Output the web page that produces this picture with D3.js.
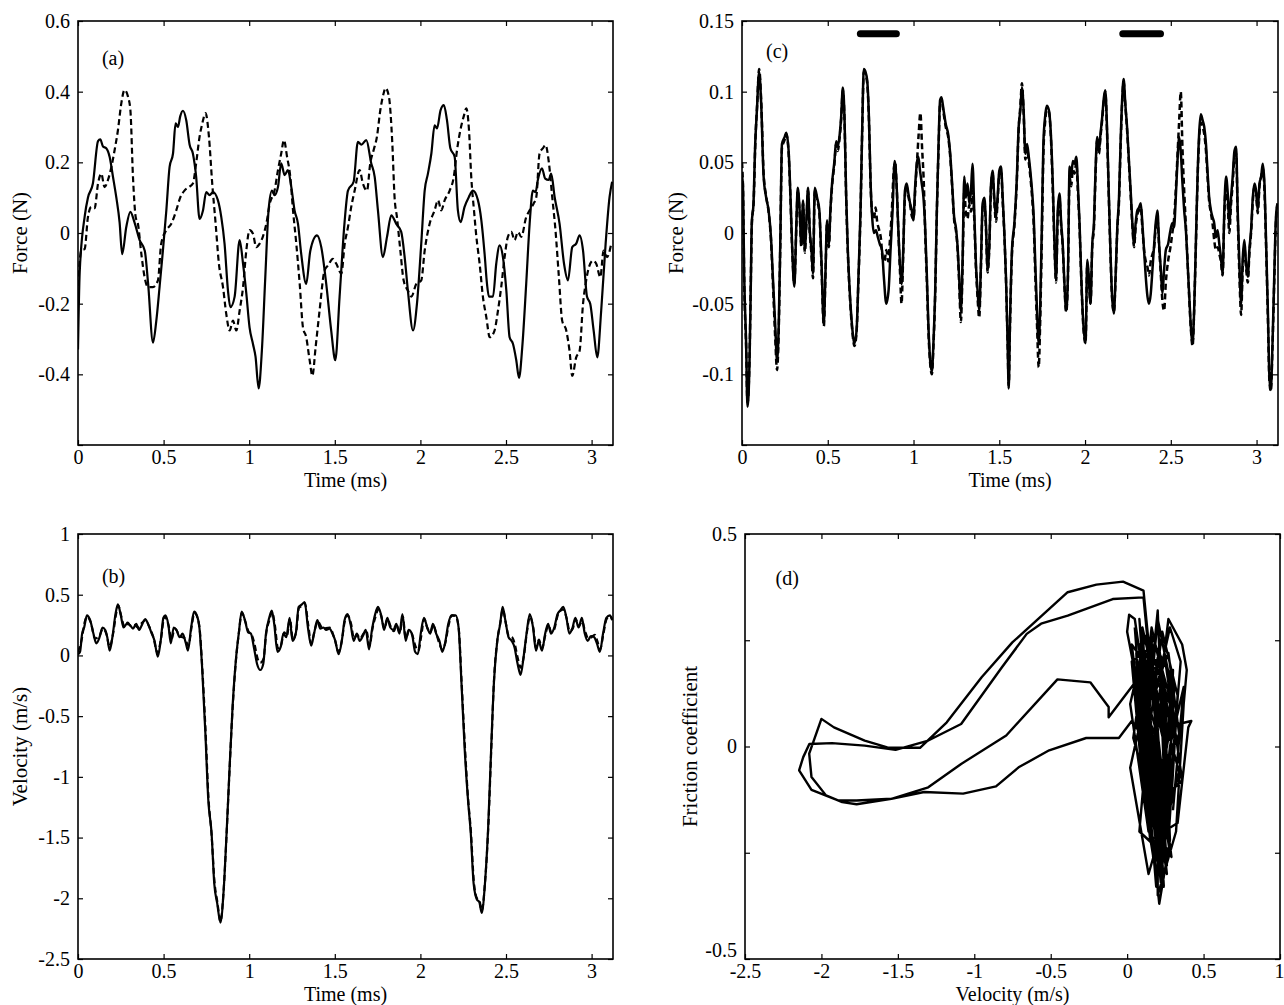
<!DOCTYPE html>
<html>
<head>
<meta charset="utf-8">
<script src="https://cdn.jsdelivr.net/npm/d3@7"></script>
<style>
  html, body { margin: 0; padding: 0; background: #fff; }
  svg { display: block; }
  .tick text { font-family: "Liberation Serif", "Times New Roman", serif; font-size: 20px; fill: #000; }
  .lab { font-family: "Liberation Serif", "Times New Roman", serif; font-size: 20px; fill: #000; }
  .ylab { font-size: 21px; }
  .letter { font-family: "Liberation Serif", "Times New Roman", serif; font-size: 20px; fill: #000; }
</style>
</head>
<body>
<svg id="fig" width="1284" height="1005"></svg>
<script>
// ---- (a) friction force, measured (solid) and simulated (dashed): [time ms, force N]
const forceA_solid = [
  [0,-0.33],[0.01,-0.11],[0.04,0.05],[0.058,0.10],[0.087,0.14],[0.117,0.26],[0.13,0.265],[0.146,0.245],
  [0.165,0.24],[0.185,0.215],[0.204,0.16],[0.224,0.10],[0.243,0.03],[0.258,-0.06],[0.282,0.017],[0.306,0.06],
  [0.33,0.03],[0.36,-0.02],[0.39,-0.05],[0.409,-0.14],[0.438,-0.31],[0.457,-0.25],[0.477,-0.15],[0.496,-0.05],
  [0.516,0.064],[0.535,0.187],[0.555,0.225],[0.57,0.31],[0.584,0.30],[0.597,0.33],[0.613,0.346],[0.632,0.32],
  [0.652,0.25],[0.671,0.225],[0.69,0.16],[0.71,0.04],[0.73,0.064],[0.749,0.116],[0.769,0.107],[0.788,0.116],
  [0.817,0.093],[0.837,0.045],[0.856,-0.03],[0.876,-0.163],[0.89,-0.21],[0.915,-0.18],[0.944,-0.02],[0.964,-0.087],
  [0.983,-0.17],[1.002,-0.267],[1.022,-0.314],[1.037,-0.35],[1.055,-0.44],[1.074,-0.333],[1.094,-0.125],[1.113,0.064],
  [1.133,0.12],[1.148,0.107],[1.168,0.13],[1.187,0.197],[1.207,0.164],[1.226,0.178],[1.246,0.13],[1.265,0.064],
  [1.285,0.026],[1.304,-0.06],[1.333,-0.144],[1.357,-0.05],[1.396,-0.007],[1.421,-0.04],[1.45,-0.144],[1.479,-0.276],
  [1.503,-0.36],[1.528,-0.18],[1.557,0.03],[1.577,0.12],[1.61,0.145],[1.635,0.258],[1.655,0.25],[1.684,0.263],
  [1.713,0.197],[1.733,0.159],[1.752,0.064],[1.781,-0.068],[1.805,-0.011],[1.83,0.05],[1.859,0.026],[1.888,0.003],
  [1.908,-0.068],[1.927,-0.163],[1.957,-0.276],[1.98,-0.2],[2.005,-0.03],[2.025,0.12],[2.044,0.168],[2.064,0.225],
  [2.083,0.305],[2.097,0.296],[2.118,0.348],[2.137,0.362],[2.155,0.32],[2.175,0.24],[2.2,0.216],[2.219,0.064],
  [2.235,0.031],[2.258,0.074],[2.283,0.102],[2.307,0.12],[2.336,0.093],[2.356,0.036],[2.375,-0.059],[2.389,-0.144],
  [2.4,-0.18],[2.424,-0.18],[2.443,-0.087],[2.463,-0.035],[2.482,-0.068],[2.502,-0.163],[2.521,-0.295],[2.541,-0.314],
  [2.56,-0.36],[2.576,-0.41],[2.595,-0.323],[2.618,-0.144],[2.638,0.026],[2.657,0.12],[2.673,0.116],[2.686,0.15],
  [2.71,0.183],[2.729,0.154],[2.749,0.15],[2.764,0.168],[2.784,0.102],[2.813,0.026],[2.839,-0.087],[2.862,-0.134],
  [2.887,-0.04],[2.91,-0.03],[2.93,-0.007],[2.95,-0.05],[2.973,-0.18],[2.992,-0.2],[3.012,-0.276],[3.033,-0.352],
  [3.056,-0.22],[3.082,-0.03],[3.105,0.102],[3.12,0.145]
];
const forceA_dashed = [
  [0,-0.15],[0.019,-0.05],[0.039,-0.045],[0.058,0.045],[0.078,0.074],[0.097,0.07],[0.117,0.14],[0.136,0.168],
  [0.155,0.13],[0.175,0.15],[0.195,0.187],[0.214,0.235],[0.233,0.29],[0.253,0.367],[0.272,0.405],[0.292,0.386],
  [0.306,0.348],[0.321,0.16],[0.337,0.045],[0.35,0.026],[0.37,-0.059],[0.389,-0.125],[0.409,-0.153],[0.438,-0.153],
  [0.467,-0.134],[0.486,-0.03],[0.516,0.008],[0.545,0.026],[0.574,0.064],[0.597,0.10],[0.622,0.12],[0.648,0.13],
  [0.671,0.14],[0.69,0.197],[0.71,0.272],[0.726,0.31],[0.745,0.339],[0.765,0.272],[0.784,0.14],[0.804,0.026],
  [0.823,-0.087],[0.847,-0.153],[0.866,-0.229],[0.886,-0.276],[0.905,-0.248],[0.925,-0.276],[0.944,-0.22],[0.964,-0.153],
  [0.983,-0.05],[1.002,0.008],[1.022,-0.002],[1.041,-0.04],[1.061,-0.03],[1.08,-0.01],[1.1,0.026],[1.12,0.083],
  [1.148,0.12],[1.168,0.178],[1.187,0.225],[1.203,0.263],[1.221,0.216],[1.24,0.159],[1.256,0.064],[1.275,-0.03],
  [1.295,-0.144],[1.314,-0.267],[1.333,-0.295],[1.353,-0.36],[1.369,-0.404],[1.388,-0.323],[1.411,-0.22],[1.44,-0.106],
  [1.46,-0.092],[1.489,-0.073],[1.509,-0.087],[1.538,-0.115],[1.558,-0.03],[1.577,0.017],[1.596,0.074],[1.616,0.12],
  [1.645,0.178],[1.664,0.14],[1.688,0.12],[1.707,0.197],[1.727,0.235],[1.746,0.272],[1.766,0.348],[1.785,0.395],
  [1.797,0.41],[1.816,0.386],[1.836,0.253],[1.849,0.102],[1.863,0.045],[1.883,-0.05],[1.902,-0.134],[1.927,-0.163],
  [1.947,-0.18],[1.976,-0.144],[2.005,-0.134],[2.025,-0.05],[2.054,0.026],[2.083,0.064],[2.103,0.093],[2.122,0.064],
  [2.142,0.093],[2.171,0.12],[2.195,0.159],[2.214,0.235],[2.233,0.29],[2.253,0.33],[2.268,0.353],[2.284,0.29],
  [2.297,0.159],[2.313,0.064],[2.327,-0.011],[2.346,-0.087],[2.365,-0.18],[2.385,-0.238],[2.405,-0.295],[2.433,-0.276],
  [2.453,-0.22],[2.472,-0.153],[2.492,-0.068],[2.511,-0.011],[2.531,0.003],[2.55,-0.02],[2.57,0.003],[2.589,-0.011],
  [2.618,0.045],[2.638,0.064],[2.661,0.083],[2.677,0.102],[2.696,0.225],[2.716,0.24],[2.731,0.249],[2.751,0.197],
  [2.77,0.102],[2.789,0.008],[2.809,-0.125],[2.828,-0.248],[2.852,-0.276],[2.871,-0.333],[2.887,-0.404],[2.91,-0.352],
  [2.93,-0.333],[2.95,-0.2],[2.965,-0.144],[2.985,-0.096],[3.008,-0.078],[3.027,-0.087],[3.051,-0.125],[3.07,-0.05],
  [3.09,-0.068],[3.115,-0.03]
];

// ---- (b) sliding velocity: [time ms, velocity m/s]
const velB_solid = [
  [0,0.01],[0.012,0.03],[0.024,0.18],[0.036,0.23],[0.052,0.33],[0.071,0.29],[0.09,0.18],[0.107,0.10],
  [0.126,0.15],[0.143,0.23],[0.159,0.21],[0.171,0.15],[0.185,0.04],[0.202,0.16],[0.219,0.34],[0.233,0.42],
  [0.25,0.33],[0.266,0.23],[0.285,0.26],[0.304,0.25],[0.321,0.22],[0.34,0.26],[0.357,0.21],[0.376,0.26],
  [0.392,0.30],[0.409,0.26],[0.428,0.19],[0.447,0.12],[0.466,-0.01],[0.483,0.12],[0.499,0.31],[0.511,0.33],
  [0.528,0.25],[0.542,0.10],[0.559,0.23],[0.575,0.21],[0.594,0.15],[0.611,0.18],[0.63,0.10],[0.642,0.04],
  [0.661,0.23],[0.678,0.36],[0.694,0.33],[0.709,0.23],[0.725,-0.1],[0.744,-0.64],[0.761,-1.19],[0.78,-1.46],
  [0.796,-1.88],[0.813,-2.04],[0.832,-2.2],[0.851,-1.93],[0.868,-1.46],[0.884,-0.97],[0.903,-0.42],[0.922,-0.04],
  [0.939,0.18],[0.956,0.36],[0.975,0.29],[0.994,0.19],[1.01,0.18],[1.027,0.07],[1.046,-0.07],[1.065,-0.12],
  [1.082,-0.07],[1.098,0.18],[1.117,0.31],[1.132,0.37],[1.146,0.26],[1.165,0.03],[1.184,0.07],[1.2,0.18],
  [1.217,0.15],[1.236,0.31],[1.253,0.12],[1.272,0.18],[1.289,0.40],[1.308,0.42],[1.324,0.44],[1.343,0.23],
  [1.362,0.08],[1.379,0.18],[1.398,0.29],[1.415,0.22],[1.434,0.23],[1.45,0.21],[1.469,0.22],[1.486,0.18],
  [1.503,0.12],[1.522,0.01],[1.541,0.12],[1.557,0.29],[1.574,0.34],[1.593,0.25],[1.61,0.12],[1.629,0.18],
  [1.645,0.12],[1.664,0.16],[1.681,0.21],[1.7,0.05],[1.717,0.21],[1.736,0.34],[1.752,0.40],[1.771,0.33],
  [1.788,0.21],[1.807,0.31],[1.824,0.23],[1.843,0.21],[1.859,0.26],[1.878,0.18],[1.895,0.34],[1.914,0.12],
  [1.931,0.21],[1.95,0.18],[1.969,0.03],[1.985,0.01],[2.002,0.18],[2.021,0.31],[2.04,0.23],[2.057,0.18],
  [2.073,0.26],[2.092,0.18],[2.111,0.12],[2.128,0.03],[2.144,0.10],[2.163,0.26],[2.182,0.33],[2.206,0.33],
  [2.223,0.23],[2.24,-0.23],[2.259,-0.78],[2.278,-1.19],[2.294,-1.46],[2.311,-1.88],[2.33,-2.01],[2.344,-2.03],
  [2.358,-2.12],[2.377,-1.88],[2.396,-1.41],[2.413,-0.78],[2.43,-0.21],[2.449,0.12],[2.466,0.26],[2.48,0.40],
  [2.496,0.29],[2.515,0.15],[2.533,0.12],[2.549,0.07],[2.568,-0.07],[2.585,-0.16],[2.603,-0.01],[2.62,0.18],
  [2.639,0.34],[2.658,0.23],[2.675,0.04],[2.691,0.12],[2.71,0.04],[2.729,0.18],[2.746,0.26],[2.763,0.18],
  [2.782,0.23],[2.801,0.34],[2.817,0.37],[2.834,0.40],[2.853,0.31],[2.87,0.18],[2.889,0.23],[2.905,0.31],
  [2.924,0.23],[2.943,0.31],[2.96,0.18],[2.977,0.12],[2.996,0.16],[3.015,0.15],[3.031,0.10],[3.048,0.03],
  [3.067,0.18],[3.086,0.31],[3.107,0.33],[3.12,0.29]
];
const velB_dashed = [
  [0,0.03],[0.02,0.12],[0.04,0.28],[0.055,0.32],[0.075,0.27],[0.1,0.14],[0.125,0.16],[0.145,0.22],
  [0.165,0.18],[0.185,0.07],[0.205,0.18],[0.225,0.36],[0.235,0.41],[0.255,0.31],[0.27,0.24],[0.29,0.27],
  [0.31,0.24],[0.33,0.25],[0.35,0.23],[0.375,0.27],[0.395,0.29],[0.415,0.24],[0.44,0.15],[0.465,0.02],
  [0.485,0.14],[0.505,0.32],[0.53,0.24],[0.545,0.13],[0.565,0.22],[0.595,0.16],[0.625,0.14],[0.645,0.08],
  [0.665,0.25],[0.68,0.35],[0.7,0.30],[0.712,0.20],[0.725,-0.08],[0.745,-0.62],[0.762,-1.17],[0.78,-1.47],
  [0.797,-1.86],[0.814,-2.03],[0.832,-2.19],[0.85,-1.95],[0.868,-1.47],[0.884,-0.98],[0.903,-0.44],[0.922,-0.05],
  [0.94,0.19],[0.957,0.35],[0.977,0.28],[0.995,0.20],[1.015,0.17],[1.03,0.10],[1.05,-0.03],[1.065,-0.06],
  [1.083,-0.03],[1.1,0.19],[1.12,0.30],[1.133,0.36],[1.15,0.25],[1.168,0.06],[1.185,0.08],[1.205,0.19],
  [1.22,0.16],[1.238,0.30],[1.255,0.13],[1.275,0.20],[1.29,0.39],[1.31,0.41],[1.325,0.43],[1.345,0.25],
  [1.362,0.10],[1.38,0.19],[1.4,0.28],[1.43,0.22],[1.47,0.23],[1.5,0.13],[1.522,0.03],[1.542,0.13],
  [1.558,0.28],[1.575,0.33],[1.595,0.26],[1.612,0.14],[1.63,0.17],[1.648,0.14],[1.668,0.18],[1.685,0.20],
  [1.703,0.08],[1.72,0.22],[1.738,0.32],[1.755,0.38],[1.772,0.32],[1.79,0.22],[1.808,0.30],[1.826,0.24],
  [1.845,0.20],[1.86,0.25],[1.88,0.19],[1.897,0.32],[1.915,0.14],[1.933,0.20],[1.952,0.17],[1.97,0.08],
  [1.988,0.04],[2.005,0.16],[2.022,0.30],[2.042,0.22],[2.058,0.19],[2.075,0.25],[2.095,0.17],[2.11,0.10],
  [2.128,0.05],[2.145,0.10],[2.165,0.25],[2.185,0.33],[2.207,0.32],[2.224,0.22],[2.24,-0.2],[2.26,-0.75],
  [2.278,-1.17],[2.295,-1.45],[2.312,-1.86],[2.33,-2.0],[2.345,-2.02],[2.358,-2.1],[2.378,-1.86],[2.397,-1.4],
  [2.414,-0.77],[2.43,-0.2],[2.45,0.13],[2.467,0.27],[2.482,0.38],[2.497,0.28],[2.516,0.16],[2.535,0.15],
  [2.55,0.10],[2.57,-0.03],[2.586,-0.10],[2.605,0.0],[2.622,0.19],[2.64,0.32],[2.66,0.22],[2.676,0.06],
  [2.692,0.13],[2.71,0.06],[2.73,0.17],[2.748,0.25],[2.765,0.19],[2.783,0.22],[2.802,0.33],[2.82,0.37],
  [2.836,0.38],[2.855,0.30],[2.872,0.20],[2.89,0.22],[2.907,0.30],[2.925,0.24],[2.944,0.28],[2.962,0.20],
  [2.98,0.14],[3.0,0.15],[3.018,0.17],[3.033,0.12],[3.05,0.05],[3.068,0.17],[3.088,0.30],[3.107,0.32],
  [3.12,0.30]
];

// ---- (c) friction force at a second condition: [time ms, force N]
const forceC_solid = [
  [0,0.04],[0.005,0.035],[0.013,-0.031],[0.024,-0.078],[0.032,-0.123],[0.044,-0.09],[0.052,-0.031],[0.057,0.007],
  [0.067,0.021],[0.077,0.063],[0.087,0.087],[0.1,0.114],[0.112,0.091],[0.126,0.04],[0.141,0.025],[0.155,0.016],
  [0.169,-0.003],[0.18,-0.031],[0.194,-0.066],[0.204,-0.09],[0.214,-0.066],[0.223,-0.008],[0.233,0.063],[0.249,0.068],
  [0.258,0.071],[0.272,0.058],[0.282,0.028],[0.292,-0.008],[0.305,-0.038],[0.317,0.007],[0.325,0.032],[0.336,0.016],
  [0.346,-0.008],[0.356,0.023],[0.366,-0.012],[0.375,0.007],[0.385,0.032],[0.395,0.002],[0.405,-0.012],[0.414,-0.029],
  [0.424,0.032],[0.438,0.025],[0.451,0.016],[0.463,-0.019],[0.477,-0.064],[0.486,-0.031],[0.496,0.009],[0.506,-0.008],
  [0.516,0.018],[0.525,0.035],[0.539,0.051],[0.549,0.065],[0.558,0.061],[0.568,0.068],[0.578,0.082],[0.588,0.103],
  [0.598,0.08],[0.607,0.028],[0.617,-0.012],[0.629,-0.043],[0.642,-0.066],[0.656,-0.078],[0.668,-0.069],[0.679,-0.031],
  [0.691,0.016],[0.701,0.075],[0.71,0.116],[0.72,0.114],[0.73,0.108],[0.74,0.082],[0.75,0.035],[0.759,0.011],
  [0.769,0.0],[0.781,0.002],[0.792,-0.003],[0.804,-0.008],[0.816,-0.012],[0.827,-0.031],[0.841,-0.05],[0.855,-0.04],
  [0.866,-0.012],[0.878,0.016],[0.89,0.051],[0.901,0.035],[0.911,0.004],[0.921,-0.022],[0.931,-0.036],[0.941,-0.008],
  [0.95,0.03],[0.96,0.035],[0.97,0.028],[0.98,0.021],[0.99,0.016],[0.999,0.009],[1.009,0.032],[1.019,0.049],
  [1.028,0.054],[1.038,0.044],[1.048,0.035],[1.058,0.025],[1.068,0.004],[1.078,-0.031],[1.087,-0.066],[1.097,-0.09],
  [1.107,-0.098],[1.116,-0.078],[1.126,-0.043],[1.136,0.016],[1.146,0.063],[1.155,0.094],[1.163,0.096],[1.175,0.087],
  [1.188,0.077],[1.202,0.07],[1.214,0.056],[1.225,0.035],[1.237,0.011],[1.247,0.004],[1.256,-0.008],[1.266,-0.031],
  [1.276,-0.055],[1.286,-0.019],[1.296,0.04],[1.305,0.025],[1.315,0.035],[1.325,0.021],[1.335,0.03],[1.344,0.049],
  [1.354,0.016],[1.364,-0.022],[1.373,-0.04],[1.383,-0.055],[1.393,-0.022],[1.403,0.021],[1.413,0.025],[1.422,0.007],
  [1.432,-0.026],[1.442,-0.008],[1.452,0.035],[1.461,0.044],[1.471,0.025],[1.481,0.011],[1.49,0.025],[1.5,0.044],
  [1.51,0.047],[1.52,0.025],[1.529,0.002],[1.539,-0.031],[1.549,-0.08],[1.555,-0.11],[1.562,-0.066],[1.574,-0.012],
  [1.588,0.007],[1.601,0.035],[1.613,0.075],[1.623,0.087],[1.632,0.103],[1.642,0.087],[1.652,0.056],[1.662,0.063],
  [1.672,0.054],[1.681,0.044],[1.691,0.03],[1.701,0.011],[1.71,-0.022],[1.72,-0.055],[1.73,-0.078],[1.738,-0.055],
  [1.748,0.004],[1.757,0.063],[1.767,0.082],[1.777,0.09],[1.789,0.087],[1.8,0.072],[1.812,0.035],[1.822,-0.008],
  [1.831,-0.033],[1.841,0.016],[1.851,0.028],[1.861,0.007],[1.87,-0.008],[1.88,-0.036],[1.89,-0.055],[1.9,-0.031],
  [1.91,0.047],[1.919,0.04],[1.929,0.051],[1.939,0.049],[1.949,0.054],[1.958,0.035],[1.968,0.007],[1.978,-0.031],
  [1.991,-0.066],[2.003,-0.078],[2.013,-0.019],[2.022,-0.031],[2.032,-0.05],[2.042,-0.008],[2.052,0.007],[2.061,0.044],
  [2.071,0.068],[2.081,0.058],[2.09,0.07],[2.1,0.082],[2.11,0.096],[2.118,0.101],[2.128,0.075],[2.137,0.035],
  [2.147,-0.008],[2.157,-0.043],[2.168,-0.057],[2.178,-0.031],[2.188,0.004],[2.198,0.025],[2.207,0.063],[2.217,0.096],
  [2.225,0.109],[2.235,0.091],[2.245,0.075],[2.256,0.051],[2.266,0.03],[2.276,0.007],[2.286,-0.008],[2.295,0.007],
  [2.305,0.016],[2.315,0.018],[2.325,0.021],[2.334,0.007],[2.344,-0.012],[2.354,-0.031],[2.364,-0.045],[2.373,-0.05],
  [2.383,-0.043],[2.393,-0.026],[2.403,-0.008],[2.412,0.007],[2.422,0.016],[2.432,-0.008],[2.442,-0.026],[2.451,-0.043],
  [2.461,-0.026],[2.471,-0.012],[2.484,-0.008],[2.498,0.002],[2.509,0.007],[2.519,0.004],[2.529,0.025],[2.539,0.051],
  [2.549,0.068],[2.558,0.058],[2.568,0.035],[2.578,0.016],[2.588,0.002],[2.597,-0.019],[2.607,-0.043],[2.617,-0.066],
  [2.627,-0.078],[2.636,-0.055],[2.646,-0.008],[2.656,0.04],[2.666,0.072],[2.675,0.084],[2.685,0.08],[2.695,0.075],
  [2.705,0.063],[2.714,0.044],[2.724,0.025],[2.734,0.016],[2.744,0.011],[2.753,0.007],[2.763,-0.003],[2.773,0.002],
  [2.783,-0.008],[2.792,-0.017],[2.802,-0.029],[2.812,0.016],[2.822,0.04],[2.832,0.028],[2.841,0.007],[2.851,0.025],
  [2.861,0.04],[2.871,0.058],[2.881,0.061],[2.89,0.016],[2.9,-0.022],[2.91,-0.05],[2.919,-0.019],[2.929,-0.005],
  [2.939,-0.022],[2.949,-0.031],[2.958,-0.012],[2.968,0.002],[2.978,0.025],[2.988,0.035],[2.997,0.03],[3.007,0.016],
  [3.017,0.035],[3.027,0.04],[3.036,0.049],[3.046,0.035],[3.056,-0.008],[3.066,-0.055],[3.075,-0.102],[3.083,-0.111],
  [3.093,-0.078],[3.103,-0.031],[3.113,0.011],[3.122,0.021]
];
const forceC_dashed = [
  [0,0.05],[0.006,0.03],[0.013,-0.035],[0.024,-0.08],[0.032,-0.12],[0.044,-0.088],[0.052,-0.03],[0.058,0.008],
  [0.068,0.022],[0.078,0.065],[0.088,0.09],[0.1,0.116],[0.112,0.093],[0.126,0.042],[0.141,0.026],[0.155,0.015],
  [0.169,-0.005],[0.18,-0.035],[0.194,-0.075],[0.204,-0.097],[0.214,-0.07],[0.223,-0.01],[0.233,0.06],[0.249,0.066],
  [0.258,0.07],[0.272,0.056],[0.282,0.026],[0.292,-0.01],[0.305,-0.036],[0.317,0.005],[0.325,0.03],[0.336,0.014],
  [0.346,-0.01],[0.356,0.021],[0.366,-0.014],[0.375,0.005],[0.385,0.03],[0.395,0.0],[0.405,-0.015],[0.414,-0.032],
  [0.424,0.03],[0.438,0.023],[0.451,0.014],[0.463,-0.022],[0.477,-0.066],[0.486,-0.033],[0.496,0.007],[0.506,-0.01],
  [0.516,0.016],[0.525,0.033],[0.539,0.049],[0.549,0.063],[0.558,0.058],[0.568,0.066],[0.578,0.08],[0.588,0.101],
  [0.598,0.078],[0.607,0.026],[0.617,-0.014],[0.629,-0.045],[0.642,-0.068],[0.656,-0.08],[0.668,-0.07],[0.679,-0.033],
  [0.691,0.014],[0.701,0.073],[0.71,0.114],[0.72,0.112],[0.73,0.106],[0.74,0.08],[0.75,0.033],[0.759,0.014],
  [0.769,0.01],[0.779,0.018],[0.788,0.008],[0.8,0.002],[0.81,-0.004],[0.82,-0.018],[0.83,-0.02],[0.842,-0.012],
  [0.852,-0.02],[0.862,-0.006],[0.873,0.014],[0.885,0.045],[0.893,0.05],[0.902,0.032],[0.912,0.0],[0.922,-0.03],
  [0.93,-0.05],[0.94,-0.015],[0.95,0.026],[0.96,0.033],[0.97,0.026],[0.98,0.02],[0.99,0.012],[1.0,0.01],
  [1.01,0.03],[1.02,0.05],[1.03,0.07],[1.04,0.085],[1.05,0.06],[1.06,0.035],[1.068,0.0],[1.078,-0.035],
  [1.087,-0.07],[1.097,-0.092],[1.107,-0.1],[1.116,-0.08],[1.126,-0.045],[1.136,0.014],[1.146,0.06],[1.155,0.092],
  [1.163,0.095],[1.175,0.085],[1.188,0.075],[1.202,0.068],[1.214,0.054],[1.225,0.033],[1.237,0.009],[1.247,0.002],
  [1.256,-0.01],[1.266,-0.035],[1.276,-0.063],[1.286,-0.025],[1.296,0.03],[1.305,0.015],[1.315,0.01],[1.325,0.02],
  [1.335,0.015],[1.344,0.03],[1.354,0.01],[1.364,-0.025],[1.373,-0.045],[1.383,-0.06],[1.393,-0.025],[1.403,0.018],
  [1.413,0.022],[1.422,0.004],[1.432,-0.028],[1.442,-0.01],[1.452,0.033],[1.461,0.042],[1.471,0.022],[1.481,0.008],
  [1.49,0.022],[1.5,0.042],[1.51,0.045],[1.52,0.022],[1.529,0.0],[1.539,-0.033],[1.549,-0.08],[1.555,-0.108],
  [1.562,-0.068],[1.574,-0.015],[1.588,0.005],[1.601,0.033],[1.613,0.073],[1.623,0.09],[1.632,0.106],[1.642,0.085],
  [1.652,0.052],[1.662,0.06],[1.672,0.05],[1.681,0.04],[1.691,0.026],[1.701,0.005],[1.71,-0.03],[1.72,-0.065],
  [1.73,-0.095],[1.738,-0.065],[1.748,-0.005],[1.757,0.055],[1.767,0.078],[1.777,0.087],[1.789,0.086],[1.8,0.07],
  [1.812,0.03],[1.822,-0.01],[1.831,-0.035],[1.841,0.012],[1.851,0.024],[1.861,0.004],[1.87,-0.01],[1.88,-0.038],
  [1.89,-0.056],[1.9,-0.033],[1.91,0.04],[1.919,0.033],[1.929,0.045],[1.939,0.042],[1.949,0.05],[1.958,0.03],
  [1.968,0.004],[1.978,-0.033],[1.991,-0.068],[2.003,-0.078],[2.013,-0.022],[2.022,-0.033],[2.032,-0.05],[2.042,-0.01],
  [2.052,0.004],[2.061,0.04],[2.071,0.066],[2.081,0.056],[2.09,0.068],[2.1,0.08],[2.11,0.094],[2.118,0.1],
  [2.128,0.072],[2.137,0.032],[2.147,-0.01],[2.157,-0.045],[2.168,-0.056],[2.178,-0.033],[2.188,0.002],[2.198,0.022],
  [2.207,0.06],[2.217,0.094],[2.225,0.107],[2.235,0.09],[2.245,0.073],[2.256,0.049],[2.266,0.027],[2.276,0.005],
  [2.286,-0.01],[2.295,0.004],[2.305,0.013],[2.315,0.016],[2.325,0.018],[2.334,0.004],[2.344,-0.012],[2.354,-0.02],
  [2.364,-0.024],[2.373,-0.03],[2.383,-0.02],[2.393,-0.015],[2.403,-0.01],[2.412,0.004],[2.422,0.01],[2.432,-0.01],
  [2.442,-0.03],[2.451,-0.048],[2.461,-0.055],[2.471,-0.035],[2.484,-0.02],[2.498,-0.01],[2.509,0.0],[2.519,0.01],
  [2.529,0.03],[2.539,0.055],[2.549,0.08],[2.558,0.1],[2.568,0.06],[2.578,0.03],[2.588,0.005],[2.597,-0.018],
  [2.607,-0.045],[2.617,-0.068],[2.627,-0.08],[2.636,-0.055],[2.646,-0.01],[2.656,0.038],[2.666,0.068],[2.675,0.078],
  [2.685,0.075],[2.695,0.07],[2.705,0.058],[2.714,0.04],[2.724,0.022],[2.734,0.014],[2.744,0.006],[2.753,-0.005],
  [2.763,-0.012],[2.773,-0.01],[2.783,-0.015],[2.792,-0.02],[2.802,-0.03],[2.812,0.012],[2.822,0.035],[2.832,0.02],
  [2.841,0.0],[2.851,0.02],[2.861,0.035],[2.871,0.054],[2.881,0.056],[2.89,0.012],[2.9,-0.03],[2.91,-0.058],
  [2.919,-0.025],[2.929,-0.01],[2.939,-0.025],[2.949,-0.035],[2.958,-0.015],[2.968,0.0],[2.978,0.022],[2.988,0.033],
  [2.997,0.028],[3.007,0.014],[3.017,0.033],[3.027,0.04],[3.036,0.046],[3.046,0.03],[3.056,-0.012],[3.066,-0.06],
  [3.075,-0.105],[3.083,-0.112],[3.093,-0.08],[3.103,-0.035],[3.113,0.008],[3.122,0.02]
];
// slip intervals marked above trace (c): [start ms, end ms] and the force level of the markers
const slipBars = [[0.69, 0.90], [2.22, 2.44]];
const slipBarLevel = 0.141;

// ---- (d) friction coefficient against velocity: [velocity m/s, coefficient]
const stickA = [
  [0.05,0.28],[0.15,-0.2],[0.1,0.15],[0.22,-0.25],[0.16,0.25],[0.12,0.05],[0.25,-0.15],[0.2,0.32],
  [0.14,0.1],[0.26,-0.3],[0.18,-0.1],[0.1,0.22],[0.28,-0.05],[0.3,0.18],[0.2,-0.22],[0.08,0.3],
  [0.15,-0.05],[0.24,-0.33],[0.18,0.05],[0.06,0.2],[0.2,-0.12],[0.3,0.08],[0.12,0.26],[0.02,0.1],
  [0.14,-0.2],[0.1,-0.02],[0.04,0.18],[0.17,-0.16],[0.27,-0.08],[0.19,0.14],[0.08,0.24],[0.13,-0.12],
  [0.23,-0.27],[0.29,0.02],[0.21,0.23],[0.11,0.02],[0.03,0.06],[-0.054,0.02]
];
const slip1 = [
  [-0.268,0.02],[-0.51,-0.009],[-0.71,-0.049],[-0.858,-0.094],[-1.073,-0.111],[-1.328,-0.107],[-1.542,-0.123],
  [-1.77,-0.136],[-1.864,-0.131],[-1.97,-0.115],[-2.065,-0.072],[-2.08,-0.017],[-2.0,0.065],[-1.918,0.045],
  [-1.717,0.014],[-1.569,-0.002],[-1.355,-0.003],[-1.18,0.057],[-0.952,0.163],[-0.751,0.245],[-0.389,0.363],
  [-0.201,0.381],[-0.027,0.388],[0.107,0.367]
];
const stickB = [
  [0.18,0.1],[0.24,-0.25],[0.16,0.2],[0.12,-0.15],[0.27,0.3],[0.36,0.24],[0.39,0.18],[0.37,0.1],
  [0.32,-0.2],[0.2,-0.35],[0.2,-0.1],[0.1,0.25],[0.15,0.05],[0.28,-0.25],[0.22,0.2],[0.06,0.22],
  [0.1,-0.1],[0.18,-0.28],[0.3,0.05],[0.42,0.06],[0.4,0.045],[0.33,-0.18],[0.15,-0.22],[0.08,0.12],
  [0.0,0.27],[0.013,0.31],[0.05,0.3],[0.09,0.2],[0.22,-0.15],[0.26,0.12],[0.12,-0.05],[0.21,-0.37],
  [0.28,-0.22],[0.24,0.15],[0.16,0.28],[0.1,0.08],[0.02,-0.05],[0.14,-0.3],[0.3,-0.1],[0.36,-0.08],
  [0.25,0.2],[0.07,0.16],[0.19,-0.19],[0.29,-0.12],[0.33,0.12],[0.23,0.27],[0.13,0.0],[0.17,-0.26],
  [0.26,-0.16],[0.31,0.15],[0.18,0.24],[0.03,0.2],[0.11,-0.12],[0.22,-0.3],[0.25,-0.05],[0.34,0.03],
  [0.27,0.22],[0.09,0.05],[0.16,-0.18],[0.29,-0.26],[0.19,0.02],[0.05,0.15],[-0.121,0.069]
];
const slip2 = [
  [-0.121,0.093],[-0.241,0.151],[-0.456,0.158],[-0.791,0.026],[-1.086,-0.041],[-1.301,-0.096],[-1.542,-0.123],
  [-1.77,-0.127],[-1.891,-0.127],[-2.065,-0.102],[-2.146,-0.056],[-2.119,-0.025],[-2.079,0.006],[-1.931,0.008],
  [-1.717,0.002],[-1.515,-0.008],[-1.301,0.014],[-1.086,0.053],[-0.818,0.187],[-0.657,0.265],[-0.563,0.289],
  [-0.389,0.308],[-0.094,0.347],[0.107,0.351]
];
const stickC = [
  [0.2,0.0],[0.26,-0.28],[0.18,0.15],[0.1,0.28],[0.16,-0.1],[0.22,-0.32],[0.3,-0.02],[0.35,0.2],
  [0.28,0.28],[0.14,0.05],[0.08,-0.2],[0.2,-0.24],[0.26,0.1],[0.12,0.22],[0.04,0.02],[0.18,-0.16],
  [0.3,0.12],[0.2,0.3],[0.1,-0.08],[0.24,-0.2],[0.34,-0.06],[0.22,0.1],[0.13,-0.14],[0.27,-0.22],
  [0.32,0.06],[0.17,0.26],[0.07,0.09],[0.21,-0.28],[0.25,-0.12],[0.15,0.18],[0.03,0.24],[0.12,-0.02],
  [0.19,-0.33],[0.28,0.0],[0.37,0.14],[0.3,-0.15]
];

// ---- axis tick values
const timeTicks = [0, 0.5, 1, 1.5, 2, 2.5, 3];
const forceATicks = [-0.6, -0.4, -0.2, 0, 0.2, 0.4, 0.6];
const velBTicks = [-2.5, -2, -1.5, -1, -0.5, 0, 0.5, 1];
const forceCTicks = [-0.15, -0.1, -0.05, 0, 0.05, 0.1, 0.15];
const velDTicks = [-2.5, -2, -1.5, -1, -0.5, 0, 0.5, 1];
const muDTicks = [-0.5, -0.25, 0, 0.25, 0.5];

const svg = d3.select("#fig");
const num = d => String(+d.toFixed(4));

function makePanel(o) {
  const w = o.x1 - o.x0, h = o.y1 - o.y0;
  const g = svg.append("g").attr("transform", `translate(${o.x0},${o.y0})`);
  const x = d3.scaleLinear().domain(o.xDomain).range([0, w]);
  const y = d3.scaleLinear().domain(o.yDomain).range([h, 0]);
  const clipId = "clip-" + o.letter;
  g.append("clipPath").attr("id", clipId).append("rect").attr("width", w).attr("height", h);

  const xFmt = d => (o.xHide && o.xHide.includes(d)) ? "" : num(d);
  const yFmt = d => (o.yHide && o.yHide.includes(d)) ? "" : num(d);

  const bottom = g.append("g").attr("transform", `translate(0,${h})`)
    .call(d3.axisBottom(x).tickValues(o.xTicks).tickSize(-5).tickPadding(5).tickFormat(xFmt));
  const top = g.append("g")
    .call(d3.axisTop(x).tickValues(o.xTicks).tickSize(-5).tickFormat(() => ""));
  const left = g.append("g")
    .call(d3.axisLeft(y).tickValues(o.yTicks).tickSize(-5).tickPadding(8).tickFormat(yFmt));
  const right = g.append("g").attr("transform", `translate(${w},0)`)
    .call(d3.axisRight(y).tickValues(o.yTicks).tickSize(-5).tickFormat(() => ""));
  [bottom, top, left, right].forEach(a => {
    a.select(".domain").remove();
    a.selectAll(".tick line").attr("stroke", "#000").attr("stroke-width", 1.2);
    a.attr("font-family", null).attr("font-size", null);
  });
  // a last tick label sitting on the page edge is kept inside it
  if (o.endAnchorLast) {
    bottom.selectAll(".tick text").filter(d => d === o.xTicks[o.xTicks.length - 1])
      .attr("text-anchor", "end").attr("dx", 4);
  }
  // the lowest y label is lifted clear of the first x label in the corner
  if (o.liftLowestY) {
    left.selectAll(".tick text").filter(d => d === o.yTicks[0]).attr("y", -o.liftLowestY);
  }

  g.append("rect").attr("width", w).attr("height", h)
    .attr("fill", "none").attr("stroke", "#000").attr("stroke-width", 1.6);

  g.append("text").attr("class", "lab").attr("text-anchor", "middle")
    .attr("x", w / 2).attr("y", h + 41.5).text(o.xLabel);
  g.append("text").attr("class", "lab ylab").attr("text-anchor", "middle")
    .attr("transform", `translate(${o.yLabelX},${h / 2}) rotate(-90)`).text(o.yLabel);
  g.append("text").attr("class", "letter")
    .attr("x", x(o.letterAt[0])).attr("y", y(o.letterAt[1])).text("(" + o.letter + ")");

  const plot = g.append("g").attr("clip-path", `url(#${clipId})`);
  return { g, plot, x, y };
}

function drawSeries(p, data, dashed, width, curve) {
  const line = d3.line().x(d => p.x(d[0])).y(d => p.y(d[1])).curve(curve || d3.curveMonotoneX);
  p.plot.append("path").datum(data)
    .attr("d", line).attr("fill", "none").attr("stroke", "#000")
    .attr("stroke-width", width).attr("stroke-linejoin", "round")
    .attr("stroke-dasharray", dashed ? "6,3.5" : null);
}

// (a)
const pa = makePanel({
  letter: "a", x0: 78, x1: 613, y0: 21, y1: 445,
  xDomain: [0, 3.125], yDomain: [-0.6, 0.6], xTicks: timeTicks, yTicks: forceATicks, yHide: [-0.6],
  xLabel: "Time (ms)", yLabel: "Force (N)", yLabelX: -51, letterAt: [0.14, 0.475]
});
drawSeries(pa, forceA_dashed, true, 2.2);
drawSeries(pa, forceA_solid, false, 2.2);

// (b)
const pb = makePanel({
  letter: "b", x0: 78, x1: 613, y0: 534, y1: 959,
  xDomain: [0, 3.125], yDomain: [-2.5, 1], xTicks: timeTicks, yTicks: velBTicks,
  xLabel: "Time (ms)", yLabel: "Velocity (m/s)", yLabelX: -51, letterAt: [0.14, 0.6]
});
drawSeries(pb, velB_dashed, true, 2.2);
drawSeries(pb, velB_solid, false, 2.2);

// (c)
const pc = makePanel({
  letter: "c", x0: 742, x1: 1278, y0: 21, y1: 445,
  xDomain: [0, 3.125], yDomain: [-0.15, 0.15], xTicks: timeTicks, yTicks: forceCTicks, yHide: [-0.15],
  xLabel: "Time (ms)", yLabel: "Force (N)", yLabelX: -59, letterAt: [0.14, 0.124]
});
drawSeries(pc, forceC_dashed, true, 2.5);
drawSeries(pc, forceC_solid, false, 2.5);
pc.plot.selectAll("line.slip").data(slipBars).join("line").attr("class", "slip")
  .attr("x1", d => pc.x(d[0])).attr("x2", d => pc.x(d[1]))
  .attr("y1", pc.y(slipBarLevel)).attr("y2", pc.y(slipBarLevel))
  .attr("stroke", "#000").attr("stroke-width", 7).attr("stroke-linecap", "round");

// (d)
const pd = makePanel({
  letter: "d", x0: 745, x1: 1280, y0: 534, y1: 959,
  xDomain: [-2.5, 1], yDomain: [-0.5, 0.5], xTicks: velDTicks, yTicks: muDTicks, yHide: [-0.25, 0.25],
  xLabel: "Velocity (m/s)", yLabel: "Friction coefficient", yLabelX: -48, letterAt: [-2.3, 0.38],
  endAnchorLast: true, liftLowestY: 9
});
drawSeries(pd, [].concat(stickA, slip1, stickB, slip2, stickC), false, 2.4, d3.curveLinear);
</script>
</body>
</html>
